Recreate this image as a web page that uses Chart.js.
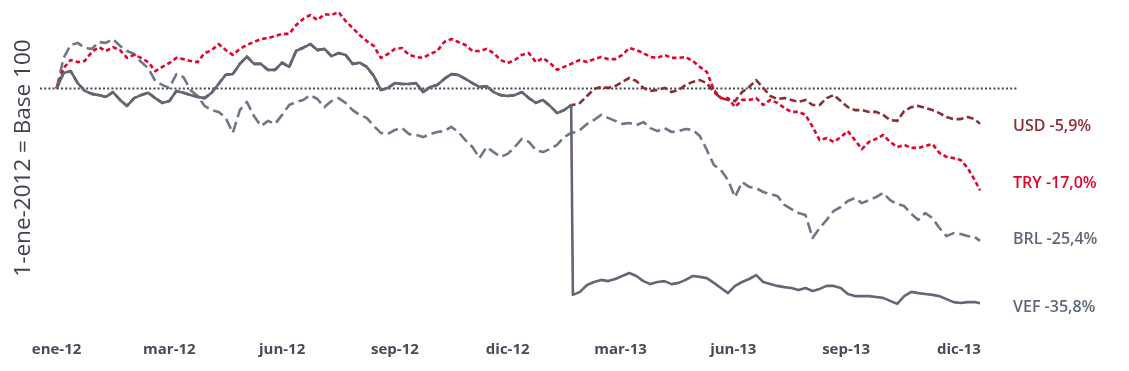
<!DOCTYPE html>
<html><head><meta charset="utf-8">
<script src="https://cdn.jsdelivr.net/npm/chart.js@4.4.1/dist/chart.umd.min.js"></script>
<style>html,body{margin:0;padding:0;background:#fff;}canvas{display:block;}</style>
</head><body>
<canvas id="c" width="1129" height="371"></canvas>
<script>
// trading-day index since 2-ene-2012 (sampled)
const tradingDay = [0,4,8,12,16,20,24,28,32,36,40,44,48,52,56,60,64,68,72,76,80,84,88,92,96,100,104,108,112,116,120,124,128,132,136,140,144,148,152,156,160,164,168,172,176,180,184,188,192,196,200,204,208,212,216,220,224,228,232,236,240,244,248,252,256,260,264,268,272,276,280,284,288,292,
293,297,301,305,309,313,317,321,325,329,333,337,341,345,349,353,357,361,365,369,373,377,381,385,389,393,397,401,405,409,413,417,421,425,429,433,437,441,445,449,453,457,461,465,469,473,477,481,485,489,493,497,501,505,509,513,517,521,524];

const vef = [100,102.6,102.9,100.9,99.6,99.1,98.9,98.6,99.4,98.1,
97.1,98.4,98.9,99.3,98.4,97.6,97.9,99.6,99.3,98.9,
98.6,98.4,99.3,100.8,102.3,102.4,104.1,105.3,104.1,104.1,
103.1,103.1,104.3,103.6,106.3,106.8,107.4,106.4,106.6,105.4,
105.9,105.6,104.1,104.3,103.6,102.1,99.75,100.1,100.9,100.75,
100.75,100.9,99.4,100.25,100.6,101.6,102.4,102.25,101.6,100.9,
100.25,100.4,99.4,98.9,98.75,98.9,99.4,98.4,97.6,98.1,
97.1,95.9,96.4,97.25,
65.6,66.1,67.25,67.75,68.1,67.9,
68.25,68.75,69.25,68.75,67.9,67.4,67.75,67.9,67.4,67.6,
68.1,68.75,68.6,68.4,67.6,66.75,65.9,67.1,67.75,68.25,
68.9,67.75,67.4,67.1,66.9,66.75,66.4,66.75,66.25,66.6,
67.1,67.1,66.75,65.75,65.4,65.4,65.4,65.25,65.1,64.6,
64.1,65.4,66.1,65.9,65.75,65.6,65.4,64.9,64.4,64.25,
64.4,64.4,64.2];

const usd = [100,102.6,102.9,100.9,99.6,99.1,98.9,98.6,99.4,98.1,
97.1,98.4,98.9,99.3,98.4,97.6,97.9,99.6,99.3,98.9,
98.6,98.4,99.3,100.8,102.3,102.4,104.1,105.3,104.1,104.1,
103.1,103.1,104.3,103.6,106.3,106.8,107.4,106.4,106.6,105.4,
105.9,105.6,104.1,104.3,103.6,102.1,99.75,100.1,100.9,100.75,
100.75,100.9,99.4,100.25,100.6,101.6,102.4,102.25,101.6,100.9,
100.25,100.4,99.4,98.9,98.75,98.9,99.4,98.4,97.6,98.1,
97.1,95.9,96.4,97.25,
97.25,97.6,98.75,99.9,100.25,100.1,
100.4,101.1,101.75,101.25,100.1,99.6,99.75,100.1,99.4,99.75,
100.6,101.1,101.4,100.9,99.4,98.4,98.1,97.9,99.4,100.25,
101.4,100.1,98.75,98.25,98.4,98.1,97.75,98.1,97.25,97.25,
98.4,98.9,97.9,96.9,96.4,96.4,96.1,96.1,95.6,94.75,
94.6,96.25,96.9,97.1,96.75,96.4,95.9,95.25,94.9,94.9,
95.25,94.9,94.1];

const tryl = [100,103.4,104.75,104.4,104.6,106.1,106.9,106.25,106.9,106.4,
105.1,105.6,105.1,104.4,102.9,103.6,104.25,105.1,104.9,104.6,
104.4,105.9,106.4,107.4,106.4,105.6,106.6,107.25,107.75,108.25,
108.4,108.75,109.1,109.1,110.6,111.6,112.25,111.4,112.4,112.25,
112.75,111.25,110.1,108.9,107.9,107.1,105.1,105.75,106.6,106.75,
105.6,105.25,105.1,105.75,106.25,107.75,108.25,107.75,107.25,106.25,
106.25,106.6,105.9,104.75,104.25,104.75,105.6,105.9,104.4,105.1,
104.25,103.1,103.6,104.1,
104.25,104.75,104.4,104.9,105.25,104.9,
104.9,105.6,106.75,106.4,105.9,105.25,105.1,105.6,105.1,105.1,
105.25,104.6,103.6,102.75,99.75,98.4,98.4,96.9,98.1,98.1,
98.4,97.25,98.1,97.6,96.75,96.1,96.1,95.6,93.6,91.4,
91.75,91.1,91.9,92.9,91.4,89.9,91.1,91.6,92.25,91.1,
90.25,90.6,90.1,90.1,90.4,90.75,89.25,88.6,88.4,88.1,
86.75,84.75,83.0];

const brl = [100,105.1,107.25,107.6,106.75,106.6,107.75,107.6,108.25,107.1,
106.25,105.75,104.4,103.4,101.25,100.6,100.1,102.4,101.9,99.75,
98.75,97.1,96.4,96.1,95.1,92.6,96.4,97.75,95.4,93.75,
94.6,94.1,95.6,97.25,97.75,98.1,98.9,98.25,96.9,97.9,
98.4,97.6,96.4,95.6,95.1,93.75,92.6,92.4,93.1,93.4,
92.4,92.25,91.9,92.4,92.75,92.9,93.6,92.75,91.4,90.25,
88.4,90.25,89.4,88.6,89.1,90.25,91.6,91.1,89.75,89.4,
89.9,90.6,91.9,92.6,
92.6,93.1,94.1,94.75,95.6,95.1,
94.6,94.1,94.25,93.9,94.4,93.4,92.9,93.4,92.75,92.9,
93.25,93.1,92.1,89.75,87.25,86.4,84.75,81.9,84.4,83.6,
83.4,82.75,82.4,82.1,80.6,79.9,79.25,78.9,75.1,76.75,
78.1,79.6,80.25,81.25,81.75,80.9,81.4,81.9,82.6,81.4,
80.75,80.4,79.1,78.1,79.25,78.4,76.75,75.4,75.9,75.75,
75.4,75.25,74.6];

const endLabels = ['USD -5,9%', 'TRY -17,0%', 'BRL -25,4%', 'VEF -35,8%'];
const tickDays = [0,64,128,192,256,320,384,448,512];
const tickLabels = ['ene-12','mar-12','jun-12','sep-12','dic-12','mar-13','jun-13','sep-13','dic-13'];
const baseValue = 100;
const axisTitle = '1-ene-2012 = Base 100';

// ---- styling ----
const COLORS = { USD: '#8a2e36', TRY: '#e4032b', BRL: '#6d7787', VEF: '#606876', base: '#45484f' };
const labelColors = [COLORS.USD, COLORS.TRY, '#5f6878', '#5f6878'];
const labelOffsets = [3, -7, -1, 4];
const X_MIN = -9.4, X_MAX = 545;

const pts = arr => tradingDay.map((d, i) => ({ x: d, y: arr[i] }));
const seriesArrays = [usd, tryl, brl, vef];

const endLabelPlugin = {
  id: 'endLabels',
  afterDatasetsDraw(chart) {
    const { ctx, scales: { y } } = chart;
    ctx.save();
    ctx.font = '600 16px "Open Sans"';
    ctx.textAlign = 'left';
    ctx.textBaseline = 'middle';
    endLabels.forEach((t, i) => {
      const arr = seriesArrays[i];
      const py = y.getPixelForValue(arr[arr.length - 1]) + labelOffsets[i];
      ctx.fillStyle = labelColors[i];
      ctx.fillText(t, 1013, py);
    });
    // y axis title
    ctx.translate(24, 158);
    ctx.rotate(-Math.PI / 2);
    ctx.textAlign = 'center';
    ctx.font = '22.5px "Open Sans"';
    ctx.fillStyle = '#3d424c';
    ctx.fillText(axisTitle, 0, 0);
    ctx.restore();
  }
};

new Chart(document.getElementById('c'), {
  type: 'line',
  data: {
    datasets: [
      { label: 'VEF', data: pts(vef), borderColor: COLORS.VEF, borderWidth: 2.6, order: 1 },
      { label: 'TRY', data: pts(tryl), borderColor: COLORS.TRY, borderWidth: 2.6, borderDash: [4.5, 3], order: 2 },
      { label: 'BRL', data: pts(brl), borderColor: COLORS.BRL, borderWidth: 2.6, borderDash: [11, 5], order: 3 },
      { label: 'USD', data: pts(usd), borderColor: COLORS.USD, borderWidth: 2.6, borderDash: [7, 3.5], order: 4 },
      { label: 'base', data: [{ x: X_MIN, y: baseValue }, { x: X_MAX, y: baseValue }], borderColor: COLORS.base, borderWidth: 2, borderDash: [2, 2.2], order: 5 }
    ]
  },
  options: {
    responsive: false,
    animation: false,
    events: [],
    layout: { padding: { left: 40, right: 112, top: 0, bottom: 0 } },
    elements: { point: { radius: 0 }, line: { tension: 0, borderCapStyle: 'butt', borderJoinStyle: 'round' } },
    plugins: { legend: { display: false }, tooltip: { enabled: false } },
    scales: {
      x: {
        type: 'linear', min: X_MIN, max: X_MAX,
        grid: { display: false, drawTicks: false },
        border: { display: false },
        afterBuildTicks: s => { s.ticks = tickDays.map(v => ({ value: v })); },
        afterFit: s => { s.height = 44; },
        ticks: {
          autoSkip: false, maxRotation: 0, padding: 13.6,
          color: '#454b57',
          font: { family: '"Open Sans"', size: 15, weight: 'bold' },
          callback: v => tickLabels[tickDays.indexOf(v)]
        }
      },
      y: { display: false, min: 60.25, max: 114.75 }
    }
  },
  plugins: [endLabelPlugin]
});
</script>
</body></html>
